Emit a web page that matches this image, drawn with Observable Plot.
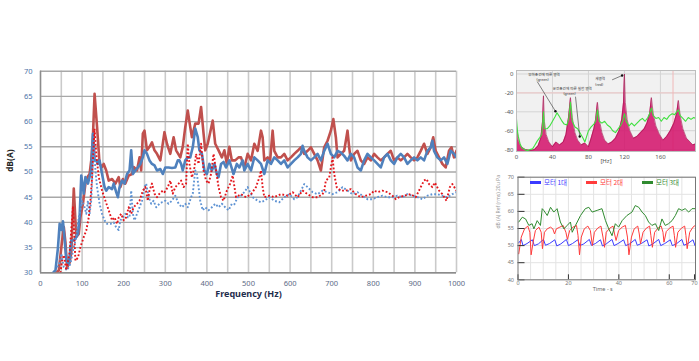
<!DOCTYPE html>
<html><head><meta charset="utf-8">
<script src="https://cdn.jsdelivr.net/npm/d3@7"></script>
<script src="https://cdn.jsdelivr.net/npm/@observablehq/plot@0.6"></script>
<style>
html,body{margin:0;padding:0;background:#fff;}
#root{position:relative;width:699px;height:361px;overflow:hidden;background:#fff;font-family:"Noto Sans","Noto Sans CJK KR",sans-serif;}
.panel{position:absolute;}
.legend{position:absolute;left:530px;top:178px;display:flex;font-family:"Noto Sans CJK KR","Noto Sans",sans-serif;font-size:6.5px;line-height:8px;}
.legend .item{display:flex;align-items:center;width:56px;}
.legend .sw{display:inline-block;width:11px;height:3px;margin-right:3px;}
</style></head><body><div id="root"></div>
<script>
// ---------- Main chart: frequency spectrum, dB(A) ----------
const mainTicksHz = [0,100,200,300,400,500,600,700,800,900,1000];
const mainGridHz = [0,50,100,150,200,250,300,350,400,450,500,550,600,650,700,750,800,850,900,950,1000];
const mainTicksDb = [30,35,40,45,50,55,60,65,70];
const mainXTitle = "Frequency (Hz)";
const mainYTitle = "dB(A)";

const redSolid = [[38,30],[44,30.5],[50,35],[56,39.1],[60,36],[64,31.1],[70,32],[74,34],[80,46.7],[86,37.1],[92,37.7],[96,41],[102,43.7],[108,47.7],[113,49],[118,49.6],[122,52.3],[126,57],[130,65.5],[136,58.9],[142,51.6],[148,51],[152,51.6],[158,50.3],[164,48.3],[172,48.6],[180,47.7],[188,49],[192,47],[198,48.6],[204,47.7],[212,49.3],[220,49.6],[224,51],[232,50.3],[238,52.9],[242,50.3],[246,57.6],[250,58.2],[256,54.3],[262,55],[268,55.9],[274,54.3],[280,53.6],[288,52.3],[298,57.9],[304,55.6],[312,53.6],[320,56.9],[326,54.3],[336,52.9],[342,55],[348,58.9],[354,62.2],[360,58.9],[364,56.9],[372,59.6],[380,59.6],[386,62.9],[392,57.6],[396,54.3],[402,55.6],[408,57.9],[414,60.2],[420,55.6],[428,54.3],[436,52.9],[442,54.3],[448,51.6],[454,55],[460,52.3],[468,52.3],[476,52.9],[482,52.9],[490,50.9],[498,53.6],[506,52.3],[514,55.6],[522,54.2],[530,58.2],[534,56.9],[538,52.3],[546,52.9],[552,52.3],[558,58.2],[562,54.2],[570,52.9],[578,52.9],[586,53.6],[594,52.3],[602,52.9],[610,53.6],[618,54.2],[626,54.9],[634,53.6],[642,54.2],[650,54.9],[658,53.6],[666,52.3],[674,50.3],[682,54.9],[690,56.2],[698,58.2],[704,60.5],[710,56.9],[714,52.9],[722,53.6],[730,54.2],[738,58.2],[742,54.9],[746,52.3],[754,53.6],[762,54.2],[770,52.3],[778,51.6],[786,52.9],[794,52.3],[802,53.6],[810,52.9],[818,52.3],[826,52.9],[834,53.6],[842,54.2],[850,52.3],[858,52.9],[866,52.3],[874,52.9],[882,53.6],[890,52.9],[898,52.3],[906,52.9],[914,54.2],[922,55.6],[930,53.6],[938,54.9],[944,56.9],[950,54.2],[958,52.9],[966,51.6],[974,50.9],[982,54.2],[988,54.9],[994,52.9],[1000,54.2]];

const blueSolid = [[30,30],[36,30.5],[42,35],[46,39.7],[50,38.5],[54,40.2],[58,36.6],[62,32.4],[68,31.7],[74,36.4],[80,36.4],[86,37.1],[90,37.7],[94,41],[98,49.3],[104,45.7],[108,49],[114,47.7],[118,49],[122,50.3],[126,57.6],[130,52.3],[134,52.3],[138,51.6],[142,52.3],[148,49.6],[154,47],[158,46.3],[164,47],[172,46.6],[176,47.7],[182,46],[186,45],[190,47],[196,48.3],[202,47.7],[208,49.6],[214,50.3],[218,54.3],[222,49.6],[228,50.3],[234,50.9],[240,51.6],[246,52.9],[250,54.3],[256,53.6],[262,52.3],[268,51.6],[274,51.3],[280,50.3],[288,50.6],[294,49.6],[300,50.9],[308,50.9],[316,50.8],[324,50.9],[330,52.3],[334,52.3],[338,51.6],[342,50.3],[348,52.3],[354,52.9],[360,52.9],[366,54.9],[372,58.6],[378,56.9],[382,54.3],[388,53.6],[394,50.3],[400,49.6],[406,51.6],[412,50.3],[418,51.6],[424,49.6],[428,49],[434,51.6],[440,52],[446,50.9],[454,52.3],[464,49.6],[472,51.6],[478,50.9],[486,52.3],[490,50.3],[498,51.6],[506,50.3],[514,52.9],[522,52.3],[530,51.6],[538,49.6],[546,52.3],[554,51.6],[562,52.9],[570,52.3],[578,51.6],[586,52.3],[594,50.9],[602,51.6],[610,52.3],[618,52.9],[626,53.6],[630,55.2],[634,54.2],[642,52.9],[650,52.3],[658,52.9],[666,53.6],[674,52.3],[682,54.2],[690,55.6],[698,53.6],[706,52.9],[714,54.2],[722,53.9],[730,53.2],[738,52.3],[746,53.6],[754,52.9],[762,50.9],[770,50.3],[778,52.3],[786,53.6],[794,52.9],[802,52.3],[810,51.6],[818,50.9],[826,52.9],[834,53.6],[842,52.3],[850,51.6],[858,52.9],[866,53.6],[874,52.9],[882,51.6],[890,52.3],[898,52.9],[906,52.3],[914,52.9],[922,52.3],[930,54.2],[938,54.9],[942,56.2],[946,54.2],[954,52.9],[962,52.3],[970,52.9],[978,51.6],[986,54.2],[994,53.6],[1000,52.9]];

const redDotted = [[48,30],[52,32.5],[56,33.5],[62,30.5],[70,34],[78,43],[84,32.4],[90,33],[96,35.1],[104,37.1],[110,38.4],[116,41],[120,44.3],[124,49],[130,58.6],[134,53.6],[140,49],[148,46.3],[156,44.3],[164,42.4],[172,40.4],[178,41],[184,39.7],[188,41],[194,41.7],[200,40.4],[206,41],[212,43],[218,41.7],[224,43],[232,43.7],[238,44.3],[246,46.3],[252,47],[258,44.3],[262,46.3],[268,47.7],[274,45.7],[280,45],[286,45.7],[294,46.3],[298,46],[306,47],[312,48.3],[318,45.7],[324,47],[332,47.7],[338,48.3],[344,47],[350,47.7],[354,55.6],[358,51.6],[364,48.9],[370,50.9],[374,53.6],[380,51.6],[386,55.6],[392,50.3],[398,48.3],[404,47.7],[410,49.6],[416,53.6],[422,50.3],[428,47],[434,45],[440,44.3],[448,46.3],[456,47.7],[462,49.3],[470,45],[482,45.6],[494,45],[506,45.6],[518,47],[526,48.9],[530,50.3],[534,47],[538,45],[550,45.3],[562,45],[578,45.6],[594,45.3],[606,46],[618,45],[630,46.3],[642,45.6],[654,45],[666,45],[678,45.6],[682,46.3],[686,48.3],[694,48.9],[702,52.9],[706,49.6],[712,47],[722,46.3],[734,46.3],[746,46.6],[758,45.6],[770,45],[782,45.3],[794,45.6],[802,46.3],[810,46],[822,46.3],[834,46],[846,45.3],[854,44.6],[862,45],[874,45.3],[890,45.6],[902,45],[914,47],[922,48.3],[928,48.6],[934,47.6],[942,47],[948,47.9],[958,46.3],[966,45.6],[976,44.3],[984,47],[990,47.6],[1000,46.3]];

const blueDotted = [[40,31.1],[46,32],[50,33.8],[56,31.1],[64,30.5],[72,31.8],[80,35.1],[86,37.1],[92,41],[96,42.4],[100,44.3],[106,43],[110,41.7],[114,44.3],[118,41.7],[122,44.3],[126,52.3],[129,54.9],[132,50.3],[136,47],[142,43.7],[148,41.7],[154,40.4],[160,39.7],[168,39.7],[176,40],[182,39],[188,38.5],[192,40.4],[198,41],[204,41.7],[210,41],[214,41],[218,46.3],[222,41.7],[226,40.4],[232,41.7],[238,43],[244,44.3],[250,47],[254,47.7],[260,45],[266,43.7],[272,44.3],[278,43],[286,43.7],[292,44],[300,44.3],[308,43.7],[316,44.3],[324,45.3],[332,43.7],[340,43],[348,43.7],[354,43],[362,45],[366,45.7],[372,50.3],[376,49.6],[380,47],[384,44.3],[390,42.4],[396,43],[404,42.4],[412,43],[420,43.7],[428,43],[436,43.7],[444,43],[452,42.4],[460,43.7],[466,43.6],[474,45],[482,45.3],[490,46],[498,47],[502,46.3],[510,45],[522,44.3],[530,44],[538,44.3],[550,45],[562,44.3],[574,44],[586,45],[598,45.6],[610,44.6],[618,45],[626,46.3],[634,47.6],[642,47],[654,46],[666,45.6],[678,46.3],[690,46],[702,45.6],[714,46],[726,47],[738,46.3],[750,45.6],[762,46],[774,45.3],[786,44.6],[798,44.6],[810,45],[822,45.3],[834,45],[846,45],[858,45.3],[870,45],[882,45.6],[894,45.3],[906,45],[918,44.6],[930,45.3],[942,45.6],[954,45.6],[966,45.3],[978,45],[990,45.6],[1000,46]];

// ---------- Inset 1: low-frequency spectrum ----------
const spectrumTicksHz = [0,40,80,120,160];
const spectrumGridHz = [40,80,120,160];
const spectrumTicksDb = [0,-20,-40,-60,-80];
const spectrumXTitle = "[Hz]";
const greenSpectrum = [[0,-48],[1,-60],[2,-66],[4,-74],[6,-78],[9,-80],[12,-81],[15,-80],[18,-79],[20,-76],[23,-71],[26,-67],[28,-64],[29,-55],[30,-40],[31,-58],[34,-58],[37,-55],[40,-50],[43,-45],[45,-41],[47,-44],[50,-49],[53,-53],[56,-54],[58,-48],[60,-30],[62,-50],[65,-56],[68,-58],[71,-63],[74,-68],[76,-72],[78,-66],[80,-60],[83,-56],[86,-53],[88,-50],[90,-38],[92,-50],[95,-52],[98,-50],[101,-54],[104,-56],[107,-60],[110,-62],[113,-58],[116,-54],[118,-50],[120,-42],[122,-50],[125,-55],[128,-52],[131,-55],[134,-52],[137,-49],[140,-47],[143,-50],[146,-46],[148,-42],[150,-36],[152,-44],[155,-47],[158,-46],[161,-50],[164,-46],[167,-48],[170,-44],[173,-42],[176,-43],[178,-40],[180,-38],[182,-44],[185,-47],[188,-50],[191,-46],[194,-48],[197,-46],[199,-47]];
const magentaSpectrum = [[0,-55],[2,-70],[5,-77],[10,-80],[15,-81],[20,-80],[24,-76],[27,-68],[29,-50],[30,-23],[31,-50],[33,-64],[36,-72],[40,-77],[44,-72],[48,-75],[52,-72],[55,-64],[58,-45],[60,-25],[62,-46],[65,-62],[68,-70],[72,-75],[76,-73],[80,-77],[83,-68],[86,-58],[88,-48],[90,-30],[92,-48],[95,-62],[98,-70],[102,-74],[106,-72],[110,-68],[114,-60],[117,-48],[119,-30],[120,0],[121,-30],[123,-48],[126,-60],[130,-68],[134,-66],[138,-62],[142,-58],[145,-52],[148,-42],[150,-25],[152,-42],[155,-55],[159,-64],[163,-70],[167,-66],[171,-60],[175,-52],[178,-42],[180,-28],[182,-44],[185,-58],[189,-68],[193,-72],[196,-75],[199,-74]];
const spectrumNotes = [
  {x:30.6, y:-0.5, text:"부하조건에 따른 영역"},
  {x:29, y:-6.1, text:"(green)"},
  {x:62, y:-15.4, text:"운전조건에 따른 실험 영역"},
  {x:59, y:-21.4, text:"(green)"},
  {x:93, y:-5.1, text:"새영역"},
  {x:92, y:-11.4, text:"(red)"}
];
const spectrumArrows = [
  {x1:23, y1:-8, x2:43.3, y2:-39.4},
  {x1:65.6, y1:-24, x2:70.3, y2:-66.1},
  {x1:106.3, y1:-6.2, x2:117.4, y2:-1.6}
];

// ---------- Inset 2: level vs time ----------
const timeTicksS = [0,20,40,60,70];
const timeGridS = [5,10,15,20,25,30,35,40,45,50,55,60,65];
const levelTicksDb = [40,45,50,55,60,65,70];
const timeXTitle = "Time - s";
const levelYTitle = "dB (A) Ref (rms) 20u Pa";
const motorLabels = ["모터 1대","모터 2대","모터 3대"];
const oneMotor = [[0.3,50.8],[1.3,51.8],[2,50],[3.6,50.6],[5.7,51.7],[6.5,50],[8.1,50.5],[10.1,51.8],[10.9,50.1],[12.5,50.6],[14.6,51.7],[15.4,49.9],[17,50.5],[19.2,51.8],[20,50],[21.6,50.6],[23.7,51.7],[24.5,50],[26.1,50.5],[28.3,51.8],[29.1,50.1],[30.7,50.6],[32.7,51.7],[33.5,49.9],[35,50.5],[37.3,51.8],[38.1,50],[39.7,50.6],[41.9,51.7],[42.7,50],[44.3,50.5],[46.5,51.8],[47.3,50.1],[48.9,50.6],[51.2,51.7],[51.9,49.9],[53.5,50.5],[55.8,51.8],[56.6,50],[58.2,50.6],[60.4,51.7],[61.2,50],[62.8,50.5],[65,51.8],[65.8,50.1],[67.4,50.6],[69.4,51.7],[70.2,50]];
const twoMotors = [[0.3,47.6],[1.3,52.5],[2.6,54.9],[3.9,55.7],[4.7,53.9],[5.2,47.3],[6,51],[6.9,54.4],[8.3,55.4],[9.2,53.9],[9.7,49.1],[10.5,53.9],[11.6,54.9],[12.9,55.4],[13.8,54.9],[14.5,53.4],[15.2,54.9],[16.6,55.4],[17.9,55.9],[19,53.9],[19.6,51.8],[20.5,54.4],[21.8,55.4],[23.2,55.9],[23.8,53],[24.4,47.3],[25.1,52.5],[26.3,54.9],[27.7,55.7],[28.7,54.4],[29.5,50],[30.3,53.9],[31.6,55.1],[32.9,55.7],[33.7,52.5],[34.3,49.5],[35,53.9],[36.4,55.1],[37.7,55.7],[38.3,53.4],[38.9,51.5],[39.9,54.4],[41.3,55.4],[42.6,55.9],[43.4,52.5],[44,47.3],[45,52.5],[46.1,54.9],[47.5,55.7],[48.1,53.4],[48.6,50.5],[49.6,53.9],[50.9,55.1],[52.2,55.7],[52.7,53],[53.3,49.5],[54.2,53.9],[55.5,55.1],[56.8,55.7],[57.5,53.9],[57.9,51],[58.8,54.1],[60.1,55.1],[61.5,55.7],[62,53],[62.5,49.5],[63.4,53.9],[64.8,55.1],[66.1,55.7],[66.6,53],[67.1,49.1],[68.1,53.9],[69.4,55.4],[70.3,55.9]];
const threeMotors = [[0.3,56.9],[1.7,58.3],[3,57.8],[4.3,55.9],[5.6,56.4],[6.3,54.9],[7.6,57.3],[8.9,55.9],[9.6,60.8],[10.2,60.3],[11.6,58.8],[12.9,61.2],[14.2,59.8],[15.5,60.8],[16.8,56.9],[18.2,54.9],[19.5,55.9],[20.8,56.9],[21.5,53.9],[22.8,55.9],[24.8,58.8],[26.7,60.8],[28.1,61.2],[29.4,59.8],[31.4,60.3],[33.3,60.8],[34.7,57.3],[36,54.9],[37.3,52.9],[38.6,56.4],[39.9,55.4],[41.3,57.3],[43.2,58.8],[45.2,59.8],[46.5,61.7],[47.9,61.2],[49.2,59.8],[50.5,58.8],[51.8,56.9],[53.1,55.9],[54.5,56.4],[55.8,54.4],[57.1,57.8],[58.4,55.9],[59.7,56.4],[61.1,57.3],[62.4,58.8],[63.7,60.8],[65,60.3],[66.3,60.8],[67.7,59.8],[69,60.8],[70.3,60.8]];

// ---------- build ----------
const rows = (pairs) => pairs.map(([x, y]) => ({x, y}));
const plain = d => String(d);
const root = document.getElementById("root");
function place(svg, left, top) {
  const d = document.createElement("div");
  d.className = "panel"; d.style.left = left + "px"; d.style.top = top + "px";
  d.appendChild(svg); root.appendChild(d);
}
const baseStyle = {fontFamily: '"Noto Sans","Noto Sans CJK KR",sans-serif', background: "transparent", overflow: "visible"};

const main = Plot.plot({
  width: 470, height: 361,
  marginLeft: 40, marginRight: 14, marginTop: 70.7, marginBottom: 88.7,
  x: {domain: [0, 1000]}, y: {domain: [30, 70]},
  style: baseStyle,
  marks: [
    Plot.ruleX(mainGridHz, {stroke: "#cacaca", strokeWidth: 1.6}),
    Plot.ruleY(mainTicksDb, {stroke: "#a8a8a8", strokeWidth: 1.4}),
    Plot.ruleX([0], {stroke: "#8c8c8c", strokeWidth: 1.4}),
    Plot.ruleY([30], {stroke: "#8c8c8c", strokeWidth: 1.4}),
    Plot.line(rows(redSolid), {x: "x", y: "y", stroke: "#c0504d", strokeWidth: 2.6, clip: true}),
    Plot.line(rows(blueSolid), {x: "x", y: "y", stroke: "#4f81bd", strokeWidth: 2.6, clip: true}),
    Plot.line(rows(blueDotted), {x: "x", y: "y", stroke: "#5f93d3", strokeWidth: 1.9, strokeDasharray: "1.8,2", strokeLinecap: "butt", clip: true}),
    Plot.line(rows(redDotted), {x: "x", y: "y", stroke: "#e3151b", strokeWidth: 1.9, strokeDasharray: "1.8,2", strokeLinecap: "butt", clip: true}),
    Plot.axisX({ticks: mainTicksHz, tickFormat: plain, tickSize: 0, tickPadding: 8, fontSize: 7.5, fill: "#5c6b85", label: null}),
    Plot.axisY({ticks: mainTicksDb, tickFormat: plain, tickSize: 0, tickPadding: 8, fontSize: 7.5, fill: "#4b73a8", label: null}),
    Plot.text([mainXTitle], {text: d => d, frameAnchor: "bottom", dy: 24, fontWeight: "bold", fontSize: 9, fill: "#1f2d4d"}),
    Plot.text([mainYTitle], {text: d => d, frameAnchor: "left", dx: -30, rotate: -90, fontWeight: "bold", fontSize: 8.5, fill: "#222"})
  ]
});
place(main, 0, 0);

const inset1 = Plot.plot({
  width: 204, height: 110,
  marginLeft: 21, marginRight: 4, marginTop: 8, marginBottom: 21,
  x: {domain: [0, 199]}, y: {domain: [-82, 3.7]},
  style: baseStyle,
  marks: [
    Plot.frame({fill: "#f1f1f1"}),
    Plot.ruleX(spectrumGridHz, {stroke: "#d4d4d4"}),
    Plot.ruleY(spectrumTicksDb, {stroke: "#d4d4d4"}),
    Plot.ruleY([-20], {stroke: "#efc6c6"}),
    Plot.ruleX([174], {stroke: "#f0b8b8"}),
    Plot.areaY(rows(magentaSpectrum), {x: "x", y1: -82, y2: "y", fill: "#d4106a", fillOpacity: 0.85, clip: true}),
    Plot.line(rows(magentaSpectrum), {x: "x", y: "y", stroke: "#a0104a", strokeWidth: 0.6, clip: true}),
    Plot.line(rows(greenSpectrum), {x: "x", y: "y", stroke: "#3fe03f", strokeWidth: 1.1, clip: true}),
    Plot.link(spectrumArrows, {x1: "x1", y1: "y1", x2: "x2", y2: "y2", stroke: "#333", strokeWidth: 0.6}),
    Plot.dot(spectrumArrows, {x: "x2", y: "y2", r: 1.2, fill: "#111"}),
    Plot.text(spectrumNotes, {x: "x", y: "y", text: "text", fontSize: 3.6, fill: "#333"}),
    Plot.axisX({ticks: spectrumTicksHz, tickFormat: plain, tickSize: 0, tickPadding: 3, fontSize: 6, fill: "#555", label: null}),
    Plot.axisY({ticks: spectrumTicksDb, tickFormat: plain, tickSize: 0, tickPadding: 3, fontSize: 6, fill: "#555", label: null}),
    Plot.text([spectrumXTitle], {text: d => d, frameAnchor: "bottom", dy: 11, fontSize: 6, fill: "#555"}),
    Plot.frame({stroke: "#bdbdbd"})
  ]
});
place(inset1, 495, 62);

const inset2 = Plot.plot({
  width: 204, height: 130,
  marginLeft: 22.5, marginRight: 4, marginTop: 8.7, marginBottom: 18.7,
  x: {domain: [0, 70.4]}, y: {domain: [40, 70]},
  style: baseStyle,
  marks: [
    Plot.ruleX(timeGridS, {stroke: "#e3e3e3"}),
    Plot.ruleY(levelTicksDb, {stroke: "#e3e3e3"}),
    Plot.line(rows(oneMotor), {x: "x", y: "y", stroke: "#3b3bff", strokeWidth: 1, clip: true}),
    Plot.line(rows(twoMotors), {x: "x", y: "y", stroke: "#ff3b3b", strokeWidth: 1, clip: true}),
    Plot.line(rows(threeMotors), {x: "x", y: "y", stroke: "#2f8a2f", strokeWidth: 1, clip: true}),
    Plot.axisY({ticks: levelTicksDb, tickFormat: plain, tickSize: -7, tickPadding: 11, fontSize: 5.5, fill: "#777", stroke: "#333", label: null}),
    Plot.axisX({ticks: timeTicksS, tickFormat: plain, tickSize: -5, tickPadding: 6.5, fontSize: 5.5, fill: "#777", stroke: "#333", label: null}),
    Plot.text([timeXTitle], {text: d => d, frameAnchor: "bottom", dy: 11.5, dx: -4, fontSize: 5.5, fill: "#666"}),
    Plot.text([levelYTitle], {text: d => d, frameAnchor: "left", dx: -19.5, rotate: -90, fontSize: 5, fill: "#999"}),
    Plot.frame({stroke: "#777"})
  ]
});
place(inset2, 495, 168);

const motorColors = ["#3b3bff", "#ff3b3b", "#2f8a2f"];
const leg = document.createElement("div");
leg.className = "legend";
motorLabels.forEach((label, i) => {
  const it = document.createElement("div"); it.className = "item";
  const sw = document.createElement("span"); sw.className = "sw"; sw.style.background = motorColors[i];
  const tx = document.createElement("span"); tx.textContent = label; tx.style.color = motorColors[i];
  it.appendChild(sw); it.appendChild(tx); leg.appendChild(it);
});
root.appendChild(leg);
</script>
</body></html>
